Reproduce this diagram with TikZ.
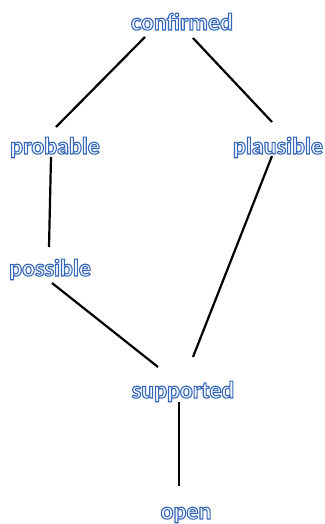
\documentclass[tikz,border=0pt]{standalone}
\usepackage{fontspec}
\setmainfont{Carlito}

% white letters with a thin blue rim (fill and stroke)
\newcommand\rimtext[1]{%
  {\color{white}\special{pdf:literal direct 2 Tr 1.1 w 0.2 0.4 0.72 RG}#1%
   \special{pdf:literal direct 0 Tr}}}

\tikzset{
  level/.style={anchor=base, inner sep=0pt, font=\fontsize{24}{27}\selectfont\bfseries},
  link/.style={black, line width=2.2pt}
}

\begin{document}
\begin{tikzpicture}[x=1pt, y=-1pt]
  \useasboundingbox (0,0) rectangle (324,524);

  % levels
  \node[level] (conf) at (182,30) {\rimtext{confirmed}};
  \node[level] (prob) at (55,154) {\rimtext{probable}};
  \node[level] (plaus) at (278,154) {\rimtext{plausible}};
  \node[level] (poss) at (50,276) {\rimtext{possible}};
  \node[level] (supp) at (183,398) {\rimtext{supported}};
  \node[level] (open) at (186,519) {\rimtext{open}};

  % links
  \draw[link] ([shift={(-37,7)}]conf.base) -- ([shift={(1,-27)}]prob.base);
  \draw[link] ([shift={(11,8)}]conf.base) -- ([shift={(-6,-32)}]plaus.base);
  \draw[link] ([shift={(-4,3)}]prob.base) -- ([shift={(-1,-29)}]poss.base);
  \draw[link] ([shift={(2,7)}]poss.base) -- ([shift={(-25,-31)}]supp.base);
  \draw[link] ([shift={(-6,2)}]plaus.base) -- ([shift={(10,-41)}]supp.base);
  \draw[link] ([shift={(-4,4)}]supp.base) -- ([shift={(-7,-33)}]open.base);
\end{tikzpicture}
\end{document}
